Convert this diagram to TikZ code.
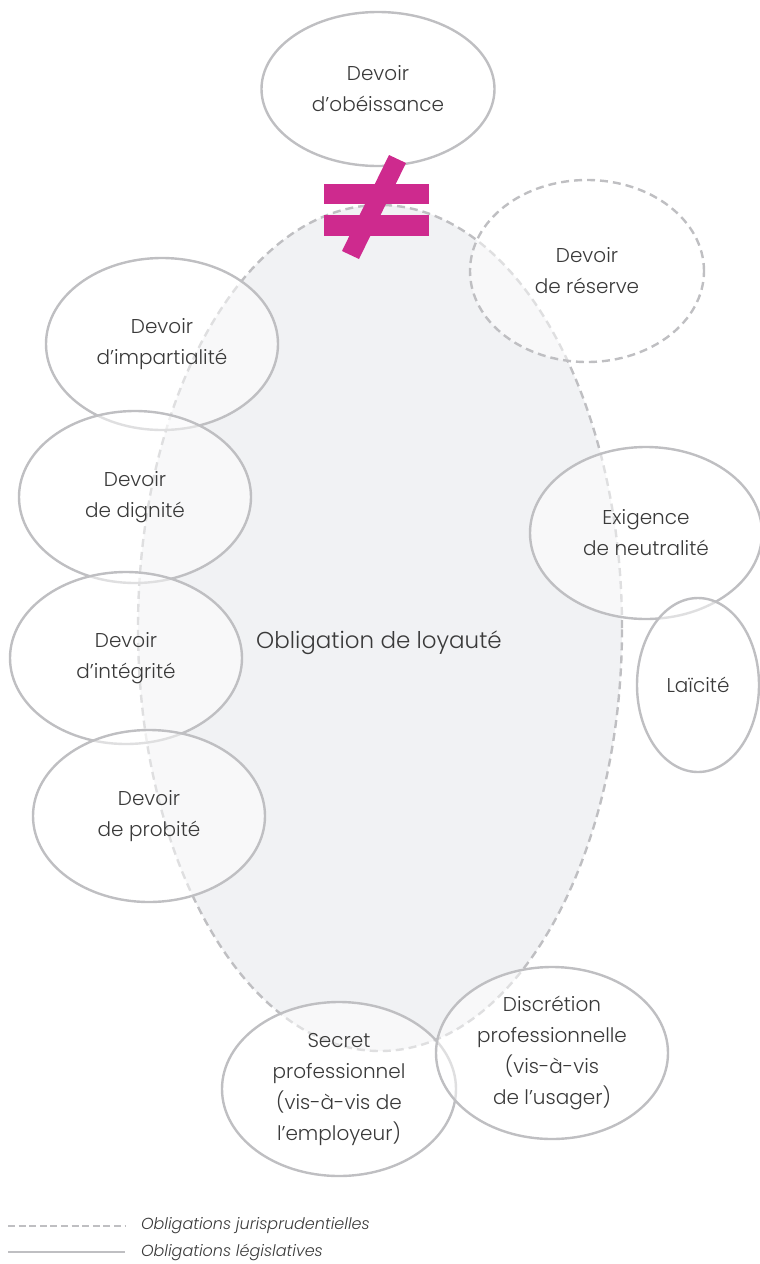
\documentclass[tikz,border=0pt]{standalone}
\usepackage{fontspec}
\setmainfont{Poppins}[UprightFont=* Light, ItalicFont=* Light Italic]
\usepackage{tikz}
\usetikzlibrary{shapes.geometric}
\definecolor{ringgrey}{HTML}{BFBFC2}
\definecolor{loyalfill}{HTML}{F1F2F4}
\definecolor{textgrey}{HTML}{3A3A3A}
\definecolor{neqmagenta}{HTML}{CE2A8E}

\tikzset{
  duty/.style={ellipse, draw=ringgrey, line width=2.4pt, fill=white, fill opacity=0.5, text opacity=1, text=textgrey, align=center, inner sep=0pt, minimum width=232pt, minimum height=172pt, font=\fontsize{20}{31}\selectfont},
  lawduty/.style={duty},
  caseduty/.style={duty, dash pattern=on 8pt off 5pt},
  legendtext/.style={anchor=west, text=textgrey, inner sep=0pt, font=\fontsize{16}{20}\selectfont\itshape}
}

\begin{document}
\begin{tikzpicture}[x=1pt, y=-1pt]
\useasboundingbox (0,0) rectangle (760,1264);

%%% LOYAUTE (big ellipse)
\node [ellipse, draw=ringgrey, line width=2.4pt, dash pattern=on 8pt off 5pt, fill=loyalfill, minimum width=484pt, minimum height=846pt, inner sep=0pt] (loyaute) at (380,628) {};
\node [text=textgrey, font=\fontsize{23}{28}\selectfont] (loyaute-txt) at (379,643) {Obligation de loyaut\'e};

%%% TOP
\node [lawduty, minimum width=233pt, minimum height=154pt] (obeissance) at (378,89) {Devoir\\ d’ob\'eissance};
\node [caseduty, minimum width=234pt, minimum height=182pt] (reserve) at (587,271) {Devoir\\ de r\'eserve};

%%% LEFT SIDE
\node [lawduty] (impartialite) at (162,344) {Devoir\\ d’impartialit\'e};
\node [lawduty] (dignite) at (135,497) {Devoir\\ de dignit\'e};
\node [lawduty] (integrite) at (126,658) {Devoir\\ d’int\'egrit\'e};
\node [lawduty] (probite) at (149,816) {Devoir\\ de probit\'e};

%%% RIGHT SIDE
\node [lawduty] (neutralite) at (646,533) {Exigence\\ de neutralit\'e};
\node [lawduty, minimum width=122pt, minimum height=174pt] (laicite) at (698,685) {La\"icit\'e};

%%% BOTTOM
\node [lawduty, minimum width=234pt, minimum height=174pt] (secret) at (339,1089) {Secret\\ professionnel\\ (vis-\`a-vis de\\ l’employeur)};
\node [lawduty] (discretion) at (552,1053) {Discr\'etion\\ professionnelle\\ (vis-\`a-vis\\ de l’usager)};

%%% not equal sign
\coordinate (neq) at (376,210);
\fill [neqmagenta] (324,184) rectangle (429,204);
\fill [neqmagenta] (324,215) rectangle (429,236);
\fill [neqmagenta] (389,155) -- (406,163) -- (359,259) -- (342,251) -- cycle;

%%% legend
\coordinate (leg-a) at (8,1226);
\coordinate (leg-b) at (8,1252);
\draw [ringgrey, line width=2pt, dash pattern=on 7pt off 3.6pt] (leg-a) -- ++(117,0) node [legendtext, xshift=15pt] (leg-case) {Obligations jurisprudentielles};
\draw [ringgrey, line width=2pt] (leg-b) -- ++(117,0) node [legendtext, xshift=15pt] (leg-law) {Obligations l\'egislatives};

\end{tikzpicture}
\end{document}
